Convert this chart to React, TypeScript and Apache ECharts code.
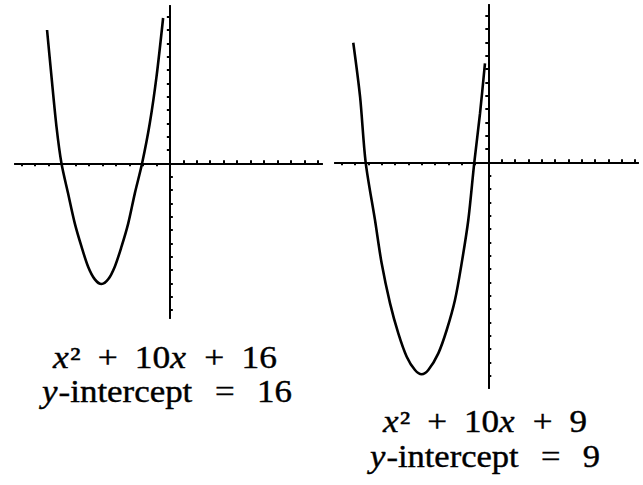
import React, { useEffect, useRef } from "react";
import * as echarts from "echarts";

// Curve points: [x, y]
const leftCurve: number[][] = [
  [-9.12, 10.0], [-8.79, 6.5], [-8.42, 2.75], [-8.05, 0], [-7.56, -2.25], [-7.06, -4.5],
  [-6.56, -6.25], [-6.07, -7.75], [-5.57, -8.7], [-5.07, -9.05], [-4.58, -8.7],
  [-4.09, -7.75], [-3.59, -6.25], [-3.09, -4.5], [-2.6, -2.25], [-2.06, 0],
  [-1.49, 3.0], [-0.99, 6.5], [-0.5, 10.9],
];
const rightCurve: number[][] = [
  [-10.13, 8.97], [-9.62, 4.92], [-9.2, 0], [-8.5, -4.33], [-8.0, -7.58], [-7.37, -10.58],
  [-6.75, -12.83], [-6.12, -14.58], [-5.5, -15.58], [-5.0, -15.9], [-4.5, -15.58],
  [-3.75, -14.33], [-3.12, -12.58], [-2.5, -10.33], [-2.0, -7.58], [-1.5, -4.33],
  [-1.05, 0], [-0.62, 3.68], [-0.25, 7.43],
];

// Tick positions
const xNegTicks = [-11, -10, -9, -8, -7, -6, -5, -4, -3, -2, -1];
const xPosTicks = [1, 2, 3, 4, 5, 6, 7, 8, 9, 10, 11];
const yPosTicks = [1, 2, 3, 4, 5, 6, 7, 8, 9, 10, 11];
const yNegTicksLeft = [-11, -10, -9, -8, -7, -6, -5, -4, -3, -2, -1];
const yNegTicksRight = [-16, -15, -14, -13, -12, -11, -10, -9, -8, -7, -6, -5, -4, -3, -2, -1];

// Ranges
const leftX = [-11.5, 11.3];
const leftY = [-11.6, 11.8];
const rightX = [-11.5, 11.23];
const rightY = [-16.93, 11.8];

// Label pieces: "*" prefix marks italic; blanks mark a math space
const leftLine1 = ["*x", "²", " ", "+", " ", "10", "*x", " ", "+", " ", "16"];
const leftLine2 = ["*y", "-intercept", "  ", "=", "  ", "16"];
const rightLine1 = ["*x", "²", " ", "+", " ", "10", "*x", " ", "+", " ", "9"];
const rightLine2 = ["*y", "-intercept", "  ", "=", "  ", "9"];

const FONT = "serif";
const FS = 31;

function axisPair(gridIndex: number, range: number[], dim: "x" | "y", firstTicks: number[], secondTicks: number[]) {
  const common = {
    gridIndex,
    type: "value" as const,
    min: range[0],
    max: range[1],
    splitLine: { show: false },
    axisLabel: { show: false },
    axisLine: { show: true, onZero: true, lineStyle: { color: "#000", width: 2 } },
  };
  const pos = dim === "x" ? ["bottom", "top"] : ["left", "right"];
  return [
    { ...common, position: pos[0], axisTick: { show: true, inside: false, length: 3, customValues: firstTicks, lineStyle: { color: "#000", width: 2 } } },
    { ...common, position: pos[1], axisTick: { show: true, inside: false, length: 3, customValues: secondTicks, lineStyle: { color: "#000", width: 2 } } },
  ];
}

function measure(ctx: CanvasRenderingContext2D | null, text: string, italic: boolean) {
  if (!ctx) return text.length * FS * 0.5;
  ctx.font = `${italic ? "italic " : ""}${FS}px ${FONT}`;
  return ctx.measureText(text).width;
}

function lineGroup(ctx: CanvasRenderingContext2D | null, pieces: string[], cx: number, y: number, targetWidth: number) {
  const items: { text: string; italic: boolean; off: number }[] = [];
  let off = 0;
  for (const p of pieces) {
    if (p.trim() === "") {
      off += p.length === 1 ? 15 : 20;
      continue;
    }
    const italic = p.startsWith("*");
    const text = italic ? p.slice(1) : p;
    items.push({ text, italic, off });
    off += measure(ctx, text, italic) + (italic ? 1 : 0);
  }
  const sx = Math.max(0.85, Math.min(1.25, targetWidth / off));
  return {
    type: "group",
    x: cx - (off * sx) / 2,
    y,
    scaleX: sx,
    children: items.map((it) => ({
      type: "text",
      x: it.off,
      y: 0,
      style: {
        text: it.text,
        fontFamily: FONT,
        fontSize: FS,
        fontStyle: it.italic ? "italic" : "normal",
        fill: "#000",
        stroke: "#000",
        lineWidth: 0.4,
        align: "left",
        verticalAlign: "middle",
      },
    })),
  };
}

export default function App() {
  const ref = useRef<HTMLDivElement>(null);
  useEffect(() => {
    if (!ref.current) return;
    const chart = echarts.init(ref.current, null, { renderer: "svg" });
    const canvas = document.createElement("canvas");
    const ctx = canvas.getContext("2d");
    const lineStyle = { color: "#000", width: 2.6 };
    chart.setOption({
      animation: false,
      backgroundColor: "#fff",
      grid: [
        { left: 15, top: 6, width: 307, height: 312 },
        { left: 335, top: 5, width: 303, height: 383 },
      ],
      xAxis: [
        ...axisPair(0, leftX, "x", xNegTicks, xPosTicks),
        ...axisPair(1, rightX, "x", xNegTicks, xPosTicks),
      ],
      yAxis: [
        ...axisPair(0, leftY, "y", yPosTicks, yNegTicksLeft),
        ...axisPair(1, rightY, "y", yPosTicks, yNegTicksRight),
      ],
      series: [
        {
          type: "line", xAxisIndex: 0, yAxisIndex: 0, data: leftCurve,
          smooth: 0.3, showSymbol: false, lineStyle,
        },
        {
          type: "line", xAxisIndex: 2, yAxisIndex: 2, data: rightCurve,
          smooth: 0.3, showSymbol: false, lineStyle,
        },
      ],
      graphic: [
        lineGroup(ctx, leftLine1, 165, 357, 224),
        lineGroup(ctx, leftLine2, 167, 392, 250),
        lineGroup(ctx, rightLine1, 485, 422, 204),
        lineGroup(ctx, rightLine2, 485, 457, 230),
      ],
    });
    return () => chart.dispose();
  }, []);
  return (
    <div
      ref={ref}
      style={{ position: "absolute", left: 0, top: 0, width: 643, height: 485, background: "#fff" }}
    />
  );
}
